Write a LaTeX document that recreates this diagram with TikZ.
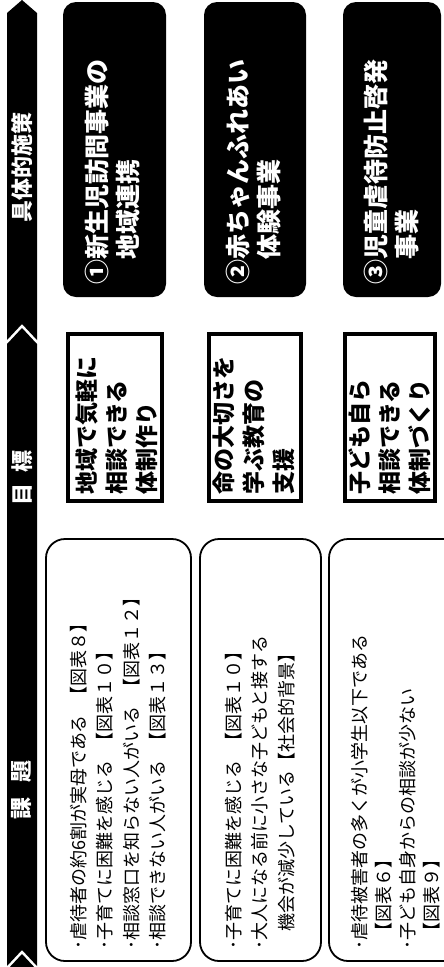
\documentclass[tikz,border=0pt]{standalone}
\usepackage{fontspec}
\newfontfamily\jp{Noto Sans CJK JP}
\newcommand{\gapsp}{\hspace{0.6em}}
\begin{document}
\begin{tikzpicture}[x=1pt,y=-1pt,
  band/.style={fill=black},
  bandtxt/.style={rotate=90,text=white,inner sep=0,font=\jp\bfseries\fontsize{22}{22}\selectfont},
  measure/.style={fill=black,rounded corners=13pt},
  measuretxt/.style={rotate=90,anchor=west,align=left,text=white,inner sep=0,font=\jp\bfseries\fontsize{25}{31}\selectfont},
  goal/.style={draw=black,line width=3.5pt,fill=white},
  goaltxt/.style={rotate=90,anchor=west,align=left,inner sep=0,font=\jp\bfseries\fontsize{23}{30}\selectfont},
  issue/.style={draw=black,line width=1.8pt,rounded corners=19pt},
  issuetxt/.style={rotate=90,anchor=west,align=left,inner sep=0,font=\jp\fontsize{18}{26.5}\selectfont}]
\useasboundingbox (0,0) rectangle (444,967);
\clip (0,0) rectangle (444,967);
% left band
\fill[band] (22,0) -- (37,13) -- (37,340) -- (22,324) -- (7,340) -- (7,13) -- cycle;
\fill[band] (22,328) -- (37,344) -- (37,966) -- (22,950) -- (7,966) -- (7,344) -- cycle;
\fill[band] (22,954) -- (37,970) -- (37,990) -- (7,990) -- (7,970) -- cycle;
\node[bandtxt] (h3) at (22,167) {具体的施策};
\node[bandtxt] (h2) at (22,478) {目\hspace{0.5em}標};
\node[bandtxt] (h1) at (22,790) {課\hspace{0.7em}題};
% measures
\fill[measure] (63,2) rectangle (166,297);
\fill[measure] (204,2) rectangle (306,297);
\fill[measure] (343,2) rectangle (441,297);
\node[measuretxt] (m1) at (112.5,285) {①新生児訪問事業の\\　地域連携};
\node[measuretxt] (m2) at (254,285) {②赤ちゃんふれあい\\　体験事業};
\node[measuretxt] (m3) at (391,285) {③児童虐待防止啓発\\　事業};
% goals
\draw[goal] (68,334) rectangle (162,501);
\draw[goal] (209,334) rectangle (301,501);
\draw[goal] (345,334) rectangle (435,501);
\node[goaltxt] (g1) at (117,495) {地域で気軽に\\相談できる\\体制作り};
\node[goaltxt] (g2) at (254,495) {命の大切さを\\学ぶ教育の\\支援};
\node[goaltxt] (g3) at (390,495) {子ども自ら\\相談できる\\体制づくり};
% issues
\draw[issue] (46,539) rectangle (191,961);
\draw[issue] (200,539) rectangle (321,961);
\draw[issue] (329,539) rectangle (480,961);
\node[issuetxt] (i1) at (118,950) {･虐待者の約6割が実母である\gapsp【図表８】\\･子育てに困難を感じる\gapsp【図表１０】\\･相談窓口を知らない人がいる\gapsp【図表１２】\\･相談できない人がいる\gapsp【図表１３】};
\node[issuetxt] (i2) at (260,950) {･子育てに困難を感じる\gapsp【図表１０】\\･大人になる前に小さな子どもと接する\\　機会が減少している【社会的背景】};
\node[issuetxt,font=\jp\fontsize{18}{24}\selectfont] (i3) at (396,950) {･虐待被害者の多くが小学生以下である\\\hspace*{0.5em}【図表６】\\･子ども自身からの相談が少ない\\\hspace*{0.5em}【図表９】};
\end{tikzpicture}
\end{document}
